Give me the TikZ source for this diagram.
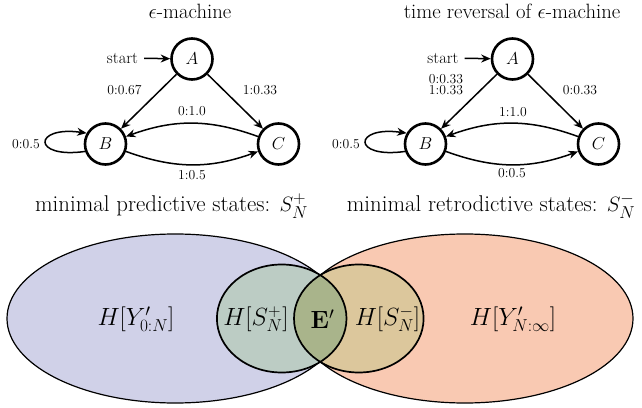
\documentclass[tikz,border=0pt]{standalone}
\usetikzlibrary{arrows.meta}
\definecolor{lav}{HTML}{D0D1E8}
\definecolor{peach}{HTML}{F9C9B2}
\definecolor{lcirc}{HTML}{BCCCC4}
\definecolor{rcirc}{HTML}{DCC79C}
\definecolor{lens}{HTML}{A9B48B}
\begin{document}
\begin{tikzpicture}[x=1pt,y=1pt,
  stnode/.style={circle,draw,line width=2.6pt,minimum size=41pt,inner sep=0pt,font=\fontsize{16.5}{18}\selectfont},
  edge/.style={line width=1.5pt,-{Stealth[length=9.5pt,width=8pt]}},
  lbl/.style={font=\fontsize{13.7}{10.5}\selectfont,inner sep=0pt,align=center},
  ttl/.style={font=\fontsize{20.7}{24}\selectfont,anchor=base,inner sep=0pt},
  captext/.style={font=\fontsize{22.8}{27}\selectfont,anchor=base,inner sep=0pt},
  big/.style={font=\fontsize{23.3}{27}\selectfont,inner sep=0pt},
  bigger/.style={font=\fontsize{24.5}{28}\selectfont,inner sep=0pt},
  startlbl/.style={font=\fontsize{16.5}{18}\selectfont,inner sep=2pt},
  venn/.style={line width=1.2pt},
  circ/.style={line width=1.7pt}]
\useasboundingbox (0,0) rectangle (642,407);

% ---------- left machine ----------
\node[ttl] (tL) at (190,388) {$\epsilon$-machine};
\node[stnode] (AL) at (192,348) {$A$};
\node[stnode] (BL) at (105.5,263) {$B$};
\node[stnode] (CL) at (278.5,263) {$C$};
\node[startlbl] (sL) at (122.5,349) {start};
\draw[edge,shorten <=4pt] (sL) -- (AL);
\draw[edge] (AL) -- (BL);
\draw[edge] (AL) -- (CL);
\draw[edge] (CL) to[bend right=20] (BL);
\draw[edge] (BL) to[bend right=20] (CL);
\draw[edge] (BL.200) .. controls +(188:54) and +(172:54) .. (BL.150);
\node[lbl] (l1) at (124.5,317) {0:0.67};
\node[lbl] (l2) at (260,317) {1:0.33};
\node[lbl] (l3) at (192,296) {0:1.0};
\node[lbl] (l4) at (192,232) {1:0.5};
\node[lbl] (l5) at (26,263) {0:0.5};
\node[captext] (cL) at (171.5,195) {minimal predictive states: $S_N^+$};

% ---------- right machine ----------
\node[ttl] (tR) at (512,388) {time reversal of $\epsilon$-machine};
\node[stnode] (AR) at (512.5,348) {$A$};
\node[stnode] (BR) at (425.5,263) {$B$};
\node[stnode] (CR) at (598.5,263) {$C$};
\node[startlbl] (sR) at (443,349) {start};
\draw[edge,shorten <=4pt] (sR) -- (AR);
\draw[edge] (AR) -- (BR);
\draw[edge] (AR) -- (CR);
\draw[edge] (CR) to[bend right=20] (BR);
\draw[edge] (BR) to[bend right=20] (CR);
\draw[edge] (BR.200) .. controls +(188:54) and +(172:54) .. (BR.150);
\node[lbl] (r1) at (446,322.5) {0:0.33\\1:0.33};
\node[lbl] (r2) at (580,317) {0:0.33};
\node[lbl] (r3) at (513,295) {1:1.0};
\node[lbl] (r4) at (512,234) {0:0.5};
\node[lbl] (r5) at (346,263) {0:0.5};
\node[captext] (cR) at (491,195) {minimal retrodictive states: $S_N^-$};

% ---------- Venn diagram ----------
\fill[lav] (175.2,88.5) ellipse [x radius=168.2, y radius=84.5];
\fill[peach] (464.8,88.5) ellipse [x radius=168.2, y radius=84.5];
\draw[venn] (175.2,88.5) ellipse [x radius=168.2, y radius=84.5];
\draw[venn] (464.8,88.5) ellipse [x radius=168.2, y radius=84.5];
\fill[lcirc] (281.7,88.5) ellipse [x radius=64.8, y radius=54];
\fill[rcirc] (358.8,88.5) ellipse [x radius=64.8, y radius=54];
\begin{scope}
  \clip (281.7,88.5) ellipse [x radius=64.8, y radius=54];
  \fill[lens] (358.8,88.5) ellipse [x radius=64.8, y radius=54];
\end{scope}
\draw[circ] (281.7,88.5) ellipse [x radius=64.8, y radius=54];
\draw[circ] (358.8,88.5) ellipse [x radius=64.8, y radius=54];
\node[bigger] (hY0) at (136,88) {$H[Y'_{0:N}]$};
\node[big] (hSp) at (256,88) {$H[S_N^+]$};
\node[big] (hE) at (322.5,88) {$\mathbf{E}'$};
\node[big] (hSm) at (387.5,88) {$H[S_N^-]$};
\node[bigger] (hY1) at (513,88) {$H[Y'_{N:\infty}]$};
\end{tikzpicture}
\end{document}
